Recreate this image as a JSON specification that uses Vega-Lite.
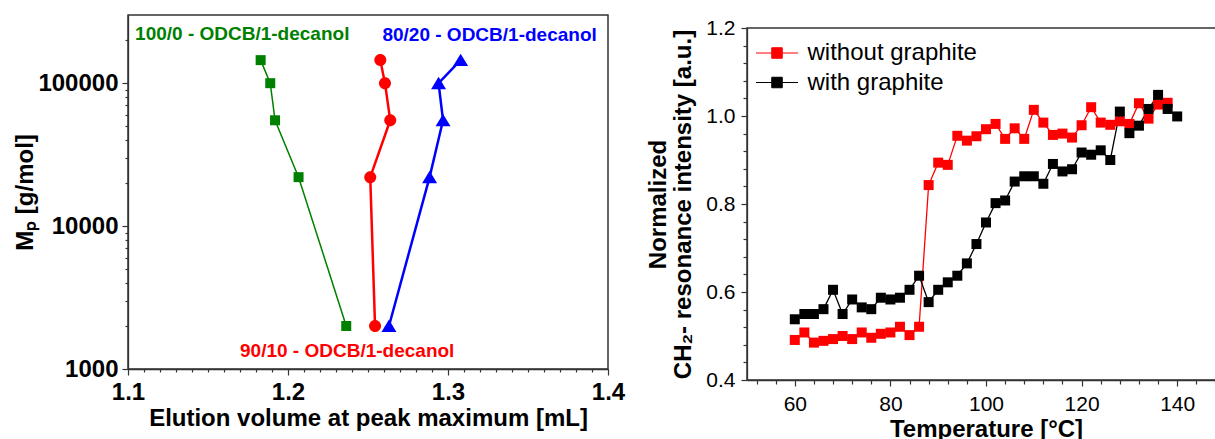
{
  "$schema": "https://vega.github.io/schema/vega-lite/v6.json",
  "padding": {"left": 13, "top": 14, "right": 0, "bottom": 0},
  "background": "white",
  "datasets": {
    "mw": [
      {"system": "100/0", "vol": 1.1829, "Mp": 145000},
      {"system": "100/0", "vol": 1.1889, "Mp": 100000},
      {"system": "100/0", "vol": 1.1919, "Mp": 55000},
      {"system": "100/0", "vol": 1.2066, "Mp": 22000},
      {"system": "100/0", "vol": 1.2364, "Mp": 2000},
      {"system": "90/10", "vol": 1.2577, "Mp": 145000},
      {"system": "90/10", "vol": 1.2606, "Mp": 100000},
      {"system": "90/10", "vol": 1.2639, "Mp": 55000},
      {"system": "90/10", "vol": 1.2514, "Mp": 22000},
      {"system": "90/10", "vol": 1.2544, "Mp": 2000},
      {"system": "80/20", "vol": 1.3079, "Mp": 145000},
      {"system": "80/20", "vol": 1.2941, "Mp": 100000},
      {"system": "80/20", "vol": 1.2969, "Mp": 55000},
      {"system": "80/20", "vol": 1.2885, "Mp": 22000},
      {"system": "80/20", "vol": 1.2631, "Mp": 2000}
    ],
    "mwlabels": [
      {"system": "100/0", "vol": 1.1714, "Mp": 222000, "label": "100/0 - ODCB/1-decanol"},
      {"system": "80/20", "vol": 1.326, "Mp": 216000, "label": "80/20 - ODCB/1-decanol"},
      {"system": "90/10", "vol": 1.237, "Mp": 1326, "label": "90/10 - ODCB/1-decanol"}
    ],
    "nmr": [
      {"sample": "without graphite", "T": 60, "I": 0.491},
      {"sample": "without graphite", "T": 62, "I": 0.508},
      {"sample": "without graphite", "T": 64, "I": 0.485},
      {"sample": "without graphite", "T": 66, "I": 0.489},
      {"sample": "without graphite", "T": 68, "I": 0.493},
      {"sample": "without graphite", "T": 70, "I": 0.5},
      {"sample": "without graphite", "T": 72, "I": 0.493},
      {"sample": "without graphite", "T": 74, "I": 0.508},
      {"sample": "without graphite", "T": 76, "I": 0.496},
      {"sample": "without graphite", "T": 78, "I": 0.505},
      {"sample": "without graphite", "T": 80, "I": 0.508},
      {"sample": "without graphite", "T": 82, "I": 0.521},
      {"sample": "without graphite", "T": 84, "I": 0.502},
      {"sample": "without graphite", "T": 86, "I": 0.521},
      {"sample": "without graphite", "T": 88, "I": 0.843},
      {"sample": "without graphite", "T": 90, "I": 0.894},
      {"sample": "without graphite", "T": 92, "I": 0.889},
      {"sample": "without graphite", "T": 94, "I": 0.955},
      {"sample": "without graphite", "T": 96, "I": 0.944},
      {"sample": "without graphite", "T": 98, "I": 0.954},
      {"sample": "without graphite", "T": 100, "I": 0.97},
      {"sample": "without graphite", "T": 102, "I": 0.982},
      {"sample": "without graphite", "T": 104, "I": 0.948},
      {"sample": "without graphite", "T": 106, "I": 0.972},
      {"sample": "without graphite", "T": 108, "I": 0.948},
      {"sample": "without graphite", "T": 110, "I": 1.014},
      {"sample": "without graphite", "T": 112, "I": 0.985},
      {"sample": "without graphite", "T": 114, "I": 0.957},
      {"sample": "without graphite", "T": 116, "I": 0.96},
      {"sample": "without graphite", "T": 118, "I": 0.951},
      {"sample": "without graphite", "T": 120, "I": 0.979},
      {"sample": "without graphite", "T": 122, "I": 1.02},
      {"sample": "without graphite", "T": 124, "I": 0.985},
      {"sample": "without graphite", "T": 126, "I": 0.98},
      {"sample": "without graphite", "T": 128, "I": 0.988},
      {"sample": "without graphite", "T": 130, "I": 0.982},
      {"sample": "without graphite", "T": 132, "I": 1.029},
      {"sample": "without graphite", "T": 134, "I": 0.994},
      {"sample": "without graphite", "T": 136, "I": 1.026},
      {"sample": "without graphite", "T": 138, "I": 1.03},
      {"sample": "with graphite", "T": 60, "I": 0.538},
      {"sample": "with graphite", "T": 62, "I": 0.55},
      {"sample": "with graphite", "T": 64, "I": 0.55},
      {"sample": "with graphite", "T": 66, "I": 0.561},
      {"sample": "with graphite", "T": 68, "I": 0.605},
      {"sample": "with graphite", "T": 70, "I": 0.55},
      {"sample": "with graphite", "T": 72, "I": 0.583},
      {"sample": "with graphite", "T": 74, "I": 0.565},
      {"sample": "with graphite", "T": 76, "I": 0.561},
      {"sample": "with graphite", "T": 78, "I": 0.587},
      {"sample": "with graphite", "T": 80, "I": 0.583},
      {"sample": "with graphite", "T": 82, "I": 0.587},
      {"sample": "with graphite", "T": 84, "I": 0.605},
      {"sample": "with graphite", "T": 86, "I": 0.637},
      {"sample": "with graphite", "T": 88, "I": 0.577},
      {"sample": "with graphite", "T": 90, "I": 0.605},
      {"sample": "with graphite", "T": 92, "I": 0.622},
      {"sample": "with graphite", "T": 94, "I": 0.637},
      {"sample": "with graphite", "T": 96, "I": 0.665},
      {"sample": "with graphite", "T": 98, "I": 0.709},
      {"sample": "with graphite", "T": 100, "I": 0.758},
      {"sample": "with graphite", "T": 102, "I": 0.802},
      {"sample": "with graphite", "T": 104, "I": 0.808},
      {"sample": "with graphite", "T": 106, "I": 0.851},
      {"sample": "with graphite", "T": 108, "I": 0.863},
      {"sample": "with graphite", "T": 110, "I": 0.863},
      {"sample": "with graphite", "T": 112, "I": 0.846},
      {"sample": "with graphite", "T": 114, "I": 0.891},
      {"sample": "with graphite", "T": 116, "I": 0.874},
      {"sample": "with graphite", "T": 118, "I": 0.879},
      {"sample": "with graphite", "T": 120, "I": 0.917},
      {"sample": "with graphite", "T": 122, "I": 0.912},
      {"sample": "with graphite", "T": 124, "I": 0.922},
      {"sample": "with graphite", "T": 126, "I": 0.9},
      {"sample": "with graphite", "T": 128, "I": 1.01},
      {"sample": "with graphite", "T": 130, "I": 0.961},
      {"sample": "with graphite", "T": 132, "I": 0.978},
      {"sample": "with graphite", "T": 134, "I": 1.016},
      {"sample": "with graphite", "T": 136, "I": 1.048},
      {"sample": "with graphite", "T": 138, "I": 1.016},
      {"sample": "with graphite", "T": 140, "I": 0.999}
    ]
  },
  "spacing": 20,
  "resolve": {"scale": {"color": "independent"}, "legend": {"color": "independent"}},
  "hconcat": [
    {
      "width": 480,
      "height": 354,
      "encoding": {
        "x": {
          "field": "vol", "type": "quantitative",
          "scale": {"domain": [1.1, 1.4], "nice": false, "zero": false},
          "axis": {
            "values": [1.1,1.11,1.12,1.13,1.14,1.15,1.16,1.17,1.18,1.19,1.2,1.21,1.22,1.23,1.24,1.25,1.26,1.27,1.28,1.29,1.3,1.31,1.32,1.33,1.34,1.35,1.36,1.37,1.38,1.39,1.4],
            "labelExpr": "abs(datum.value*10-round(datum.value*10))<0.001 ? format(datum.value,'.1f') : ''",
            "tickSize": {"condition": {"test": "abs(datum.value*10-round(datum.value*10))<0.001", "value": 6}, "value": 3},
            "labelFontSize": 24, "labelFontWeight": "bold", "labelPadding": 5,
            "labelOverlap": false, "labelFlush": false,
            "title": "Elution volume at peak maximum [mL]",
            "titleFontSize": 24, "titleFontWeight": "bold", "titlePadding": 2
          }
        },
        "y": {
          "field": "Mp", "type": "quantitative",
          "scale": {"type": "log", "domain": [1000, 300000], "nice": false},
          "axis": {
            "values": [1000,2000,3000,4000,5000,6000,7000,8000,9000,10000,20000,30000,40000,50000,60000,70000,80000,90000,100000,200000],
            "labelExpr": "abs(log(datum.value)/LN10-round(log(datum.value)/LN10))<0.001 ? format(datum.value,'d') : ''",
            "tickSize": {"condition": {"test": "abs(log(datum.value)/LN10-round(log(datum.value)/LN10))<0.001", "value": 6}, "value": 3},
            "labelFontSize": 24, "labelFontWeight": "bold", "labelPadding": 4,
            "labelOverlap": false, "labelFlush": false,
            "title": "Mₚ [g/mol]",
            "titleFontSize": 24, "titleFontWeight": "bold", "titlePadding": 0
          }
        },
        "color": {
          "field": "system", "type": "nominal",
          "scale": {"domain": ["100/0", "90/10", "80/20"], "range": ["#008000", "#ff0000", "#0000ff"]},
          "legend": null
        }
      },
      "layer": [
        {
          "data": {"name": "mw"},
          "transform": [{"filter": "datum.system === '100/0'"}],
          "mark": {"type": "line", "strokeWidth": 1.5},
          "encoding": {"order": {"field": "Mp", "type": "quantitative"}}
        },
        {
          "data": {"name": "mw"},
          "transform": [{"filter": "datum.system === '90/10'"}],
          "mark": {"type": "line", "strokeWidth": 2.5},
          "encoding": {"order": {"field": "Mp", "type": "quantitative"}}
        },
        {
          "data": {"name": "mw"},
          "transform": [{"filter": "datum.system === '80/20'"}],
          "mark": {"type": "line", "strokeWidth": 2.5},
          "encoding": {"order": {"field": "Mp", "type": "quantitative"}}
        },
        {
          "data": {"name": "mw"},
          "mark": {"type": "point", "filled": true, "opacity": 1, "size": 225},
          "encoding": {
            "shape": {
              "field": "system", "type": "nominal",
              "scale": {"domain": ["100/0", "90/10", "80/20"], "range": ["M-0.667,-0.667L0.667,-0.667L0.667,0.667L-0.667,0.667Z", "M-0.8,0A0.8,0.8 0 1,0 0.8,0A0.8,0.8 0 1,0 -0.8,0Z", "M0,-0.85L1,0.8L-1,0.8Z"]},
              "legend": null
            }
          }
        },
        {
          "data": {"name": "mwlabels"},
          "mark": {"type": "text", "font": "Liberation Sans", "fontSize": 19, "fontWeight": "bold", "align": "center", "baseline": "middle"},
          "encoding": {"text": {"field": "label", "type": "nominal"}}
        }
      ]
    },
    {
      "spacing": 0,
      "vconcat": [
        {
          "width": 478,
          "height": 1,
          "view": {"stroke": null},
          "data": {"values": []},
          "mark": "point",
          "encoding": {}
        },
        {
          "width": 478,
          "height": 352,
          "data": {"name": "nmr"},
          "encoding": {
            "x": {
              "field": "T", "type": "quantitative",
              "scale": {"domain": [50, 150], "nice": false, "zero": false},
              "axis": {
                "values": [52,56,60,64,68,72,76,80,84,88,92,96,100,104,108,112,116,120,124,128,132,136,140,144,148],
                "labelExpr": "datum.value % 20 == 0 ? datum.value : ''",
                "tickSize": {"condition": {"test": "datum.value % 20 == 0", "value": 6}, "value": 4},
                "labelFontSize": 21, "labelPadding": 7,
                "labelOverlap": false, "labelFlush": false,
                "title": "Temperature [°C]",
                "titleFontSize": 24, "titleFontWeight": "bold", "titlePadding": 3
              }
            },
            "y": {
              "field": "I", "type": "quantitative",
              "scale": {"domain": [0.4, 1.2], "nice": false, "zero": false},
              "axis": {
                "values": [0.4,0.44,0.48,0.52,0.56,0.6,0.64,0.68,0.72,0.76,0.8,0.84,0.88,0.92,0.96,1.0,1.04,1.08,1.12,1.16,1.2],
                "labelExpr": "abs(datum.value*5-round(datum.value*5))<0.001 ? format(datum.value,'.1f') : ''",
                "tickSize": {"condition": {"test": "abs(datum.value*5-round(datum.value*5))<0.001", "value": 6}, "value": 4},
                "labelFontSize": 21, "labelPadding": 6,
                "labelOverlap": false, "labelFlush": false,
                "title": ["Normalized", "CH₂- resonance intensity [a.u.]"],
                "titleFontSize": 24, "titleFontWeight": "bold", "titlePadding": 10, "titleLineHeight": 25
              }
            },
            "color": {
              "field": "sample", "type": "nominal",
              "scale": {"domain": ["without graphite", "with graphite"], "range": ["#ff0000", "#000000"]},
              "legend": {
                "orient": "none", "legendX": 18, "legendY": 26, "title": null,
                "padding": 0,
                "symbolType": "M-2,0L2,0M-0.5,-0.5L0.5,-0.5L0.5,0.5L-0.5,0.5Z",
                "symbolSize": 441, "symbolStrokeWidth": 1,
                "labelFontSize": 24, "labelFont": "Liberation Sans", "labelColor": "#000", "labelOffset": 18.5,
                "labelLimit": 400,
                "rowPadding": 5.5
              }
            }
          },
          "layer": [
            {
              "mark": {"type": "line", "strokeWidth": 1.3},
              "encoding": {"order": {"field": "T", "type": "quantitative"}}
            },
            {
              "mark": {"type": "point", "shape": "square", "filled": true, "opacity": 1, "size": 100}
            }
          ]
        }
      ]
    }
  ],
  "config": {
    "font": "Liberation Sans",
    "view": {"stroke": "#333", "strokeWidth": 1.5},
    "axis": {
      "grid": false, "domainColor": "#333", "domainWidth": 1.3, "tickColor": "#333", "tickWidth": 1.2,
      "labelColor": "#000", "titleColor": "#000", "labelFont": "Liberation Sans", "titleFont": "Liberation Sans"
    }
  }
}
